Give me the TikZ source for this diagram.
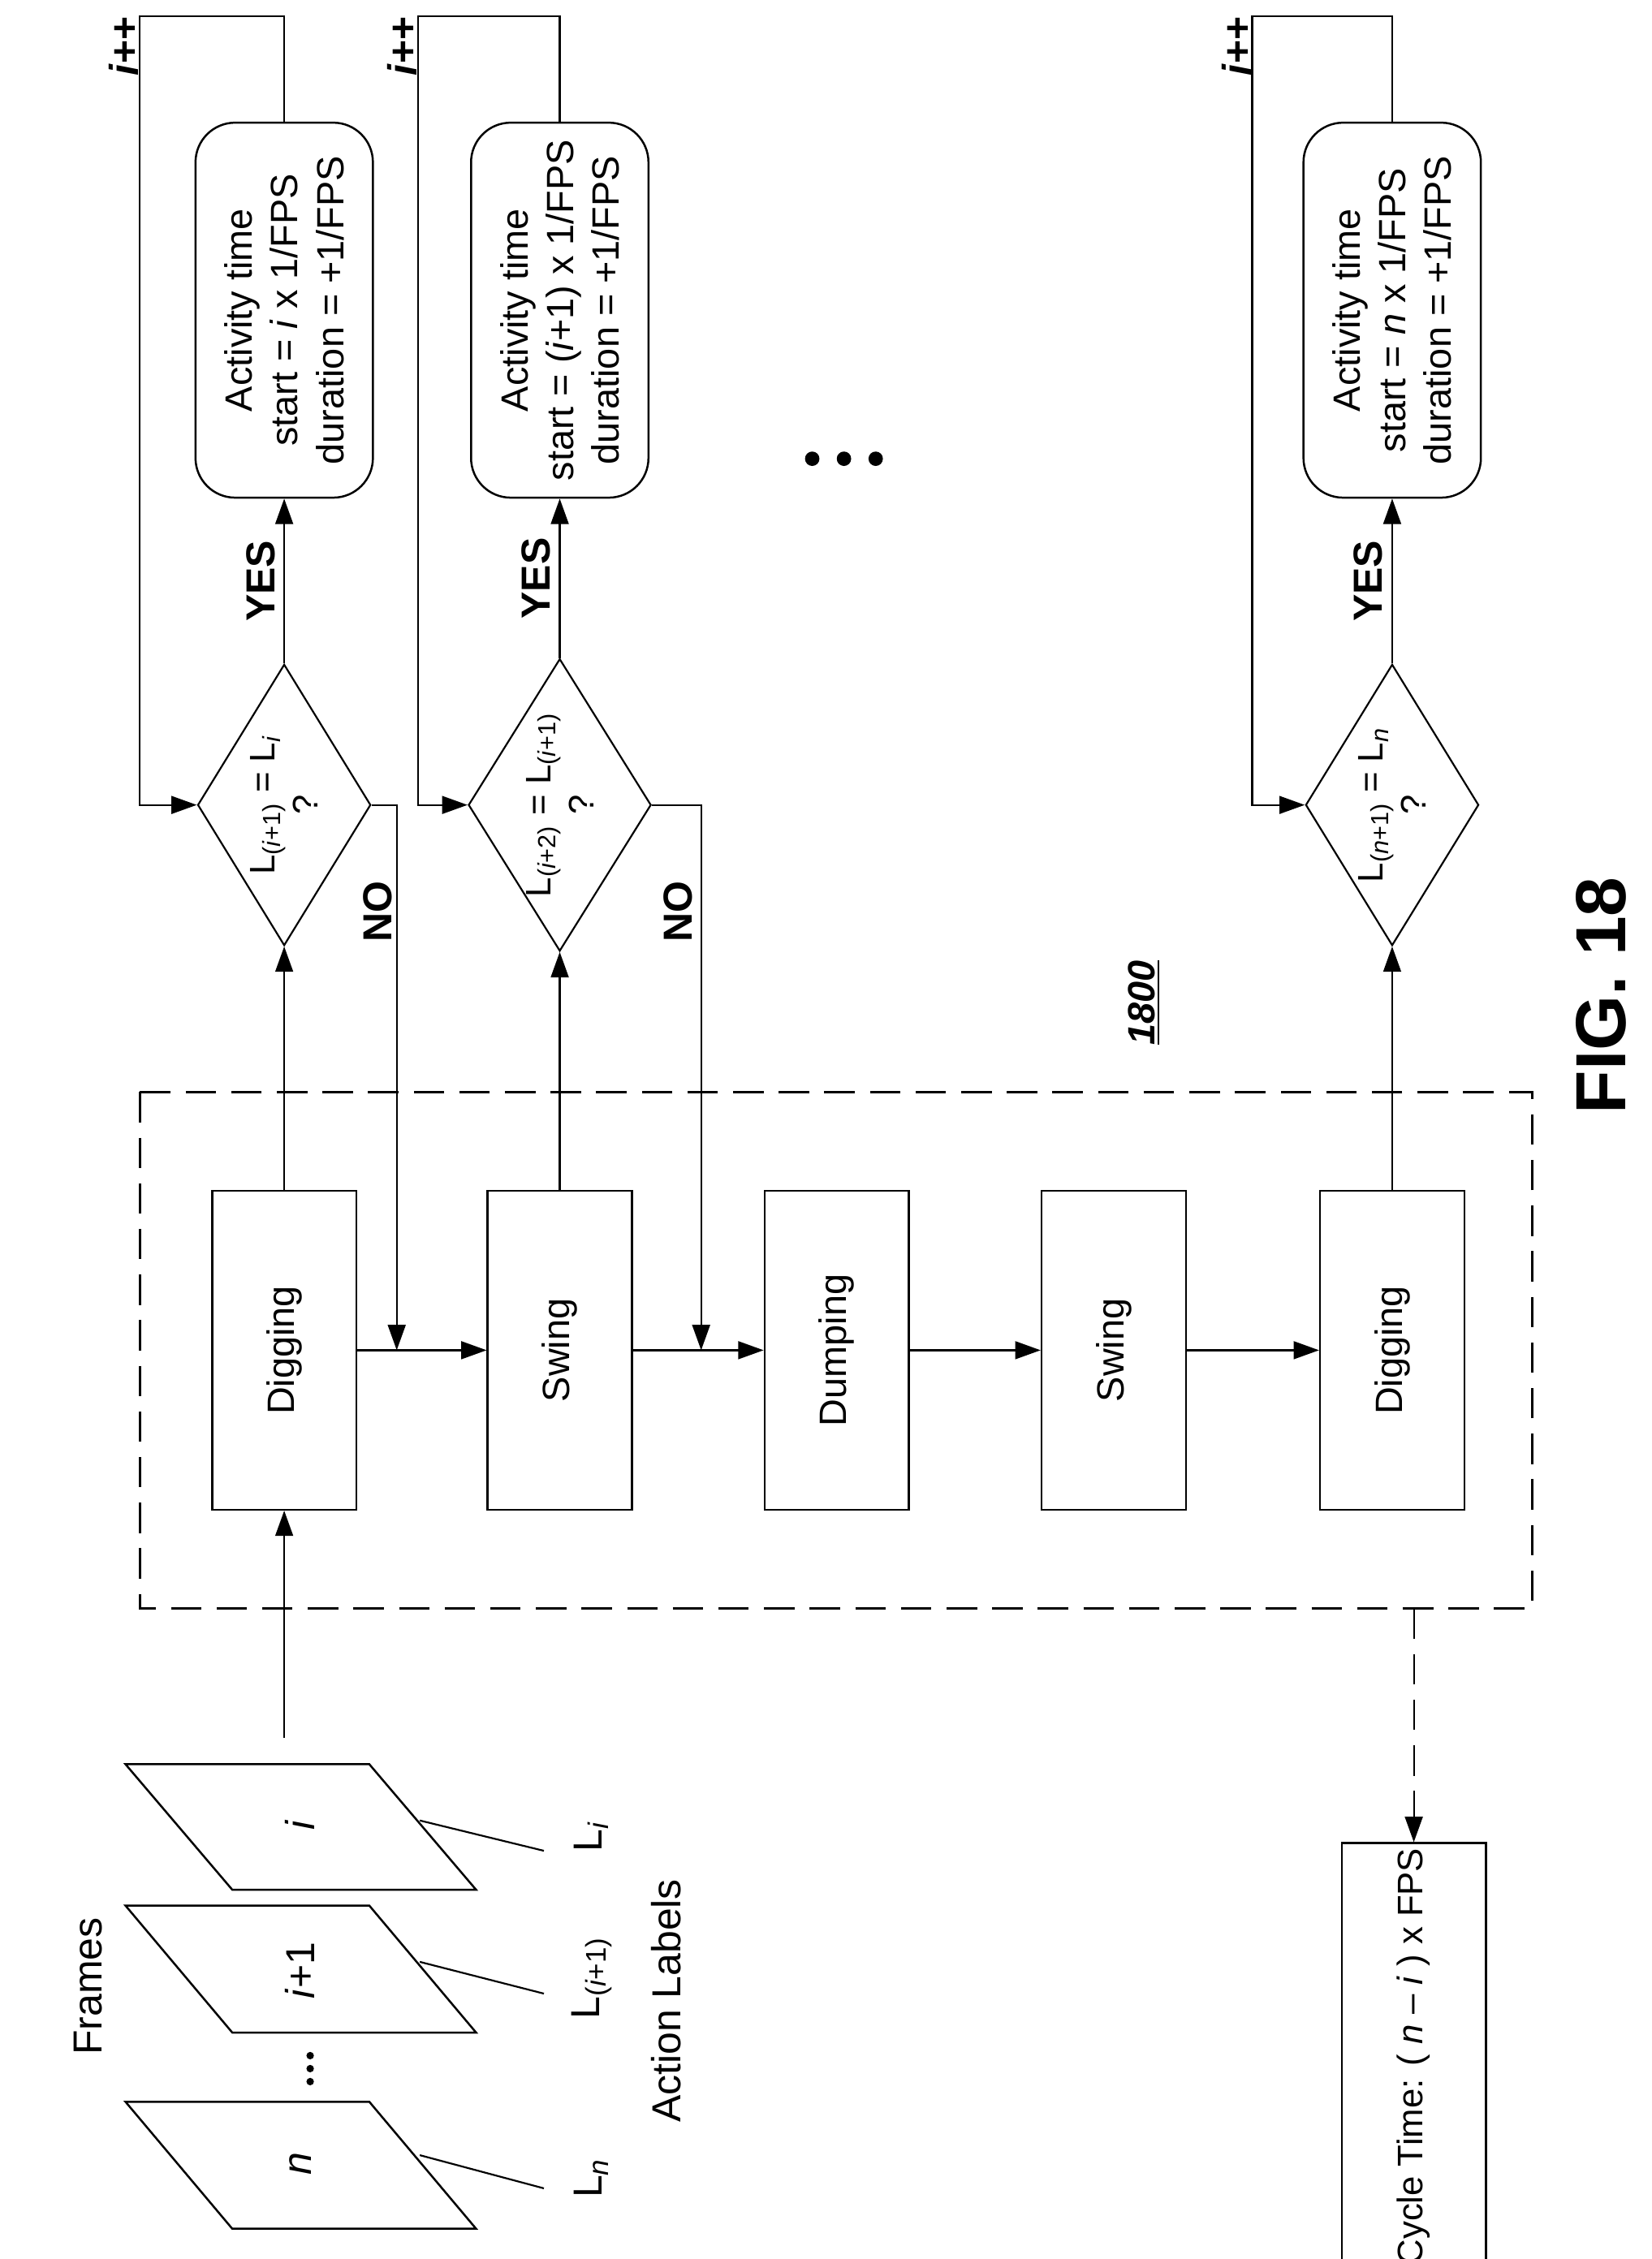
\documentclass[tikz,border=0pt]{standalone}
\usepackage{fontspec}
\setmainfont{Liberation Sans}
\usetikzlibrary{arrows.meta}
\usetikzlibrary{shapes.geometric}
\usetikzlibrary{calc}

\tikzset{
  blk/.style={draw, thick, rotate=90, minimum width=4.42cm, minimum height=2cm, font=\fontsize{15}{17}\selectfont},
  dec/.style={draw, diamond, rotate=90, minimum width=3.9cm, minimum height=2.4cm, aspect=1.6, inner sep=0pt, align=center, font=\fontsize{14}{17}\selectfont},
  act/.style={draw, thick, rounded corners=0.55cm, rotate=90, minimum width=5.2cm, minimum height=2.46cm, align=center, font=\fontsize{15}{18}\selectfont},
  lbl/.style={rotate=90, font=\fontsize{16}{18}\selectfont},
  bold/.style={rotate=90, font=\bfseries\fontsize{16}{18}\selectfont},
  arr/.style={-{Triangle[length=10pt,width=7pt]}},
}

\begin{document}
\begin{tikzpicture}[x=0.02cm, y=-0.02cm, line width=0.7pt]
\useasboundingbox (0,0) rectangle (1145,1566);

% dashed group
\draw[dashed, thick, dash pattern=on 12pt off 6pt] (97,757) rectangle (1062,1115);
\coordinate (db) at (980,1115);

% action boxes
\node[blk] (dig1) at (197,936) {Digging};
\node[blk] (sw1) at (388,936) {Swing};
\node[blk] (dum) at (580,936) {Dumping};
\node[blk] (sw2) at (772,936) {Swing};
\node[blk] (dig2) at (965,936) {Digging};

\draw[arr] (dig1.south) -- (sw1.north);
\draw[arr] (sw1.south) -- (dum.north);
\draw[arr] (dum.south) -- (sw2.north);
\draw[arr] (sw2.south) -- (dig2.north);

% decisions
\node[dec] (dec1) at (197,558) {L\textsubscript{(\textit{i}+1)} = L\textsubscript{\textit{i}}\\?};
\node[dec] (dec2) at (388,558) {L\textsubscript{(\textit{i}+2)} = L\textsubscript{(\textit{i}+1)}\\?};
\node[dec] (dec3) at (965,558) {L\textsubscript{(\textit{n}+1)} = L\textsubscript{\textit{n}}\\?};

% activity times
\node[act] (act1) at (197,215) {Activity time\\start = \textit{i} x 1/FPS\\duration = +1/FPS};
\node[act] (act2) at (388,215) {Activity time\\start = (\textit{i}+1) x 1/FPS\\duration = +1/FPS};
\node[act] (act3) at (965,215) {Activity time\\start = \textit{n} x 1/FPS\\duration = +1/FPS};

\draw[arr] (dig1.east) -- (dec1.west);
\draw[arr] (sw1.east) -- (dec2.west);
\draw[arr] (dig2.east) -- (dec3.west);

\draw[arr] (dec1.east) -- node[bold, above] {YES} (act1.west);
\draw[arr] (dec2.east) -- node[bold, above] {YES} (act2.west);
\draw[arr] (dec3.east) -- node[bold, above] {YES} (act3.west);

% loops
\coordinate (lp1) at (97,558);
\coordinate (lp2) at (290,558);
\coordinate (lp3) at (868,558);
\draw[arr] (act1.east) -- ++(0,-73) -| (lp1) -- (dec1.north);
\draw[arr] (act2.east) -- ++(0,-73) -| (lp2) -- (dec2.north);
\draw[arr] (act3.east) -- ++(0,-73) -| (lp3) -- (dec3.north);
\node[bold] (inc1) at (86,32) {\textit{i}++};
\node[bold] (inc2) at (279,32) {\textit{i}++};
\node[bold] (inc3) at (857,32) {\textit{i}++};

% NO branches
\coordinate (no1) at (275,936);
\coordinate (no2) at (486,936);
\draw[arr] (dec1.south) -| (no1);
\draw[arr] (dec2.south) -| (no2);
\node[bold] (nol1) at (262,632) {NO};
\node[bold] (nol2) at (470,632) {NO};

% ellipsis
\foreach \x in {563,585,607} \fill (\x,318) circle (5);

% frames
\draw[thick] (87,1223) -- (256,1223) -- (330,1310) -- (161,1310) -- cycle;
\draw[thick] (87,1321) -- (256,1321) -- (330,1409) -- (161,1409) -- cycle;
\draw[thick] (87,1457) -- (256,1457) -- (330,1545) -- (161,1545) -- cycle;
\node[lbl] (fi) at (208,1265) {\textit{i}};
\node[lbl] (fi1) at (208,1366) {\textit{i}+1};
\node[lbl] (fn) at (208,1500) {\textit{n}};
\foreach \y in {1425,1434,1443} \fill (215,\y) circle (2.6);
\node[lbl] (frames) at (61,1377) {Frames};
\node[lbl] (alabels) at (462,1387) {Action Labels};

\node[lbl] (li) at (410,1273) {L\textsubscript{\textit{i}}};
\node[lbl] (li1) at (410,1371) {L\textsubscript{(\textit{i}+1)}};
\node[lbl] (ln) at (410,1510) {L\textsubscript{\textit{n}}};
\draw (291,1262) -- (377,1283);
\draw (291,1360) -- (377,1382);
\draw (291,1494) -- (377,1517);

\coordinate (in0) at (197,1205);
\draw[arr] (in0) -- (dig1.west);

% cycle time
\node[draw, thick, rotate=90, anchor=east, minimum width=5.7cm, minimum height=2cm, inner xsep=2pt, font=\fontsize{14}{16}\selectfont] (cyc) at (980,1277) {Cycle Time: ( \textit{n} -- \textit{i} ) x FPS};
\draw[arr, dashed, dash pattern=on 12pt off 6pt] (db) -- (cyc.east);

% titles
\node[rotate=90, font=\bfseries\itshape\fontsize{15}{17}\selectfont] (num) at (793,695) {\underline{1800}};
\node[rotate=90, font=\bfseries\fontsize{28}{32}\selectfont] (fig) at (1110,690) {FIG. 18};
\end{tikzpicture}
\end{document}
